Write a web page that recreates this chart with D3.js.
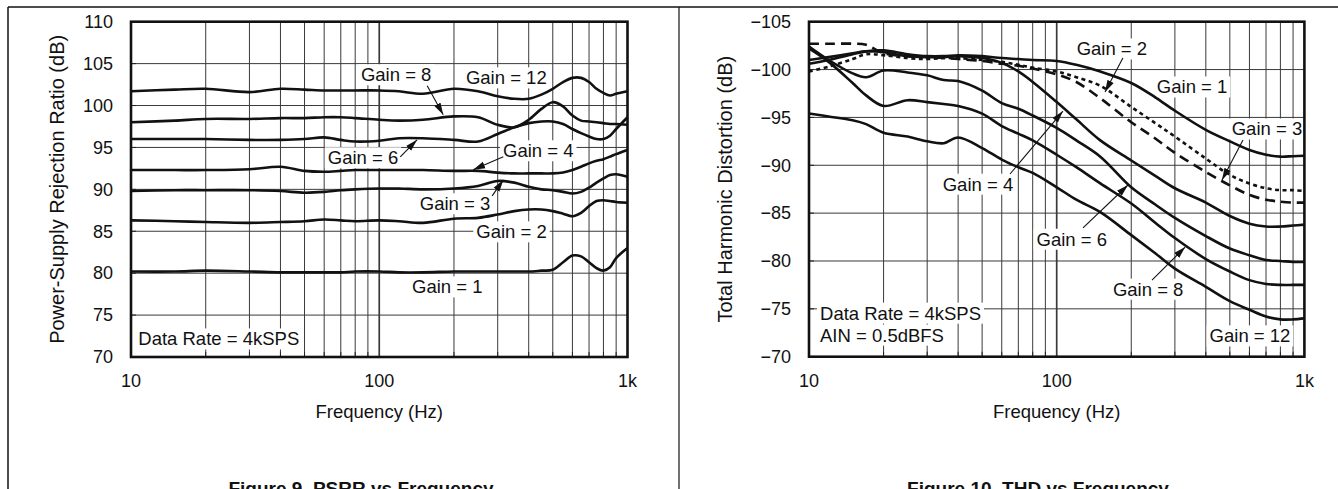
<!DOCTYPE html>
<html>
<head>
<meta charset="utf-8">
<script src="https://cdn.jsdelivr.net/npm/d3@7"></script>
<style>
  body { margin: 0; background: #fff; }
  text { font-family: Arial, "Liberation Sans", Helvetica, sans-serif; fill: #111; }
</style>
</head>
<body>
<svg id="chart" width="1338" height="489"></svg>
<script>
// ---- Figure 9: PSRR vs frequency ----
var psrrFreq   = [10, 15, 20, 30, 40, 50, 60, 70, 80, 100, 120, 150, 200, 250, 300, 350, 400, 450, 500, 550, 600, 650, 700, 750, 800, 850, 900, 1000];
var psrrGain12 = [101.7, 101.9, 102.0, 101.6, 102.0, 101.9, 101.8, 101.8, 101.8, 101.8, 101.7, 101.4, 102.0, 101.7, 101.1, 100.8, 100.8, 101.3, 102.0, 102.8, 103.3, 103.3, 102.8, 102.0, 101.5, 101.2, 101.4, 101.7];
var psrrGain8  = [98.0, 98.2, 98.4, 98.4, 98.5, 98.5, 98.6, 98.6, 98.5, 98.3, 98.2, 98.3, 98.7, 98.6, 97.7, 97.4, 98.3, 99.6, 100.4, 99.9, 98.8, 98.2, 98.1, 98.0, 97.9, 97.8, 97.8, 97.7];
var psrrGain6  = [96.0, 96.0, 96.0, 95.9, 95.9, 96.0, 96.2, 95.9, 95.7, 95.8, 96.1, 96.1, 95.9, 95.7, 96.6, 97.4, 97.9, 98.1, 98.1, 97.8, 97.2, 96.7, 96.3, 96.0, 96.0, 96.4, 97.2, 98.6];
var psrrGain4  = [92.3, 92.3, 92.3, 92.4, 92.7, 92.2, 92.1, 92.2, 92.3, 92.3, 92.3, 92.3, 92.2, 92.2, 92.0, 91.9, 91.9, 91.9, 91.9, 92.0, 92.3, 92.7, 93.1, 93.4, 93.6, 93.9, 94.2, 94.7];
var psrrGain3  = [89.8, 89.9, 89.9, 89.9, 89.8, 89.6, 89.7, 89.9, 90.0, 90.1, 90.1, 90.0, 90.1, 90.4, 91.0, 90.8, 90.3, 90.0, 89.9, 89.7, 89.5, 89.7, 90.2, 90.8, 91.3, 91.7, 91.8, 91.5];
var psrrGain2  = [86.3, 86.2, 86.1, 86.0, 86.1, 86.2, 86.4, 86.3, 86.2, 86.3, 86.2, 86.0, 86.5, 86.6, 87.0, 87.4, 87.6, 87.6, 87.4, 87.1, 86.8, 87.2, 88.0, 88.6, 88.7, 88.6, 88.5, 88.4];
var psrrGain1  = [80.2, 80.2, 80.3, 80.2, 80.1, 80.1, 80.1, 80.1, 80.2, 80.2, 80.1, 80.1, 80.2, 80.2, 80.2, 80.2, 80.2, 80.3, 80.4, 81.3, 82.1, 82.0, 81.3, 80.6, 80.3, 80.7, 81.8, 83.0];
var psrrTicks  = [70, 75, 80, 85, 90, 95, 100, 105, 110];

// ---- Figure 10: THD vs frequency ----
var thdFreq   = [10, 12, 15, 17, 20, 25, 30, 35, 40, 50, 60, 70, 80, 100, 120, 150, 200, 250, 300, 400, 500, 600, 700, 800, 900, 1000];
var thdGain1  = [-100.6, -101.0, -101.6, -101.9, -102.0, -101.6, -101.4, -101.4, -101.5, -101.4, -101.2, -101.1, -101.0, -100.9, -100.5, -99.8, -98.6, -97.1, -95.7, -93.7, -92.5, -91.6, -91.1, -90.9, -90.95, -91.0];
var thdGain2  = [-99.8, -100.3, -101.1, -101.6, -101.5, -101.2, -101.1, -101.2, -101.2, -101.0, -100.8, -100.5, -100.2, -99.8, -99.2, -98.3, -96.1, -94.4, -93.0, -90.7, -89.0, -88.1, -87.6, -87.4, -87.4, -87.3];
var thdGain3  = [-102.7, -102.7, -102.7, -102.6, -101.7, -101.4, -101.3, -101.2, -101.1, -100.9, -100.6, -100.4, -100.1, -99.5, -98.7, -97.0, -94.5, -92.8, -91.3, -89.3, -87.9, -86.9, -86.4, -86.2, -86.1, -86.1];
var thdGain4  = [-101.0, -101.3, -101.7, -101.9, -101.8, -101.4, -101.3, -101.3, -101.4, -101.2, -100.7, -99.8, -98.7, -96.6, -94.8, -92.6, -90.5, -88.9, -87.6, -86.1, -84.7, -83.9, -83.6, -83.6, -83.7, -83.8];
var thdGain6  = [-102.4, -101.0, -99.6, -99.2, -99.9, -99.7, -99.4, -98.9, -98.8, -97.8, -96.5, -95.9, -95.2, -93.9, -92.6, -90.9, -87.7, -85.9, -84.5, -82.6, -81.3, -80.6, -80.1, -80.0, -79.9, -79.9];
var thdGain8  = [-102.2, -100.8, -98.6, -97.3, -96.2, -96.8, -96.6, -96.4, -96.2, -95.4, -94.1, -93.3, -92.6, -91.1, -89.8, -88.1, -86.0, -84.0, -82.4, -80.2, -78.9, -78.0, -77.6, -77.5, -77.5, -77.5];
var thdGain12 = [-95.4, -95.1, -94.7, -94.3, -93.4, -93.0, -92.5, -92.3, -92.9, -91.8, -90.6, -89.8, -89.2, -87.7, -86.4, -85.1, -82.7, -80.8, -79.2, -77.3, -75.8, -74.9, -74.2, -73.9, -73.9, -74.0];
var thdTicks  = [-105, -100, -95, -90, -85, -80, -75, -70];

var freqTicks = [10, 100, 1000];
var freqTickLabels = ['10', '100', '1k'];

var svg = d3.select('#chart');

var defs = svg.append('defs');
defs.append('marker')
  .attr('id', 'arrow')
  .attr('markerUnits', 'userSpaceOnUse')
  .attr('markerWidth', 13).attr('markerHeight', 8)
  .attr('refX', 12).attr('refY', 4)
  .attr('orient', 'auto')
  .append('path')
  .attr('d', 'M0,0.5 L12,4 L0,7.5 Z')
  .attr('fill', '#111');

// page frame lines
svg.append('line').attr('x1', 8).attr('x2', 1338).attr('y1', 7).attr('y2', 7)
  .attr('stroke', '#111').attr('stroke-width', 1.5);
svg.append('line').attr('x1', 8).attr('x2', 8).attr('y1', 7).attr('y2', 489)
  .attr('stroke', '#111').attr('stroke-width', 1.5);
svg.append('line').attr('x1', 679).attr('x2', 679).attr('y1', 7).attr('y2', 489)
  .attr('stroke', '#111').attr('stroke-width', 1.2);

function drawPanel(p) {
  var bottom = p.top + p.height;
  var x = d3.scaleLog().domain([10, 1000]).range([p.left, p.left + p.width]);
  var y = d3.scaleLinear().domain(p.yDomain).range([bottom, p.top]);
  var g = svg.append('g');

  var minor = [];
  [10, 100].forEach(function (dec) {
    for (var k = 2; k <= 9; k++) minor.push(dec * k);
  });

  // grid
  g.selectAll('.vgrid').data(minor.concat([100])).enter().append('line')
    .attr('x1', function (d) { return x(d); }).attr('x2', function (d) { return x(d); })
    .attr('y1', p.top).attr('y2', bottom)
    .attr('stroke', '#3a3a3a')
    .attr('stroke-width', function (d) { return d === 100 ? 1.7 : 1; });
  g.selectAll('.hgrid').data(p.yTicks).enter().append('line')
    .attr('x1', p.left).attr('x2', p.left + p.width)
    .attr('y1', function (d) { return y(d); }).attr('y2', function (d) { return y(d); })
    .attr('stroke', '#3a3a3a').attr('stroke-width', 1);

  // annotation text with white boxes that hide the grid
  p.labels.forEach(function (l) {
    var t = g.append('text')
      .attr('x', x(l.f)).attr('y', y(l.v))
      .attr('dy', '0.35em')
      .attr('text-anchor', l.anchor || 'middle')
      .style('font-size', '18.5px')
      .text(l.text);
    var b = t.node().getBBox();
    g.insert('rect', function () { return t.node(); })
      .attr('x', b.x - 3).attr('y', b.y)
      .attr('width', b.width + 6).attr('height', b.height)
      .attr('fill', '#fff');
  });

  // curves
  var line = d3.line()
    .x(function (d) { return x(d[0]); })
    .y(function (d) { return y(d[1]); })
    .curve(d3.curveCatmullRom.alpha(0.5));
  p.series.forEach(function (s) {
    g.append('path')
      .datum(p.freq.map(function (f, i) { return [f, s.values[i]]; }))
      .attr('d', line)
      .attr('fill', 'none')
      .attr('stroke', '#111')
      .attr('stroke-width', 2.6)
      .attr('stroke-dasharray', s.dash || null)
      .attr('stroke-linejoin', 'round');
  });

  // arrows
  p.arrows.forEach(function (a) {
    g.append('line')
      .attr('x1', x(a[0])).attr('y1', y(a[1]))
      .attr('x2', x(a[2])).attr('y2', y(a[3]))
      .attr('stroke', '#111').attr('stroke-width', 1.1)
      .attr('marker-end', 'url(#arrow)');
  });

  // inner ticks
  g.selectAll('.xt').data(minor).enter().append('line')
    .attr('x1', function (d) { return x(d); }).attr('x2', function (d) { return x(d); })
    .attr('y1', bottom).attr('y2', bottom - 5)
    .attr('stroke', '#222').attr('stroke-width', 1);
  g.selectAll('.yt').data(p.yTicks).enter().append('line')
    .attr('x1', p.left).attr('x2', p.left + 5)
    .attr('y1', function (d) { return y(d); }).attr('y2', function (d) { return y(d); })
    .attr('stroke', '#222').attr('stroke-width', 1);

  // plot frame
  g.append('rect')
    .attr('x', p.left).attr('y', p.top)
    .attr('width', p.width).attr('height', p.height)
    .attr('fill', 'none').attr('stroke', '#111').attr('stroke-width', 2.6);

  // tick labels
  g.selectAll('.yl').data(p.yTicks).enter().append('text')
    .attr('x', p.left - 18).attr('y', function (d) { return y(d); })
    .attr('dy', '0.35em').attr('text-anchor', 'end')
    .style('font-size', '18px')
    .text(function (d) { return d < 0 ? '\u2212' + Math.abs(d) : d; });
  g.selectAll('.xl').data(freqTicks).enter().append('text')
    .attr('x', function (d) { return x(d); }).attr('y', bottom + 30)
    .attr('text-anchor', 'middle')
    .style('font-size', '18px')
    .text(function (d, i) { return freqTickLabels[i]; });

  // axis titles
  g.append('text')
    .attr('x', p.left + p.width / 2).attr('y', bottom + 61)
    .attr('text-anchor', 'middle')
    .style('font-size', '18.5px')
    .text('Frequency (Hz)');
  g.append('text')
    .attr('transform', 'translate(' + p.yTitleX + ',' + (p.top + p.height / 2) + ') rotate(-90)')
    .attr('text-anchor', 'middle').attr('dy', '0.35em')
    .style('font-size', '20px')
    .text(p.yTitle);

  // figure caption (cut off by the page edge)
  g.append('text')
    .attr('x', p.captionX).attr('y', 495)
    .attr('text-anchor', 'middle')
    .style('font-size', '19px').style('font-weight', 'bold')
    .text(p.caption);
}

drawPanel({
  left: 131, top: 21.7, width: 496.5, height: 335.3,
  yDomain: [70, 110], yTicks: psrrTicks,
  yTitle: 'Power-Supply Rejection Ratio (dB)', yTitleX: 57,
  caption: 'Figure 9. PSRR vs Frequency', captionX: 361,
  freq: psrrFreq,
  series: [
    { values: psrrGain12 }, { values: psrrGain8 }, { values: psrrGain6 },
    { values: psrrGain4 }, { values: psrrGain3 }, { values: psrrGain2 }, { values: psrrGain1 }
  ],
  labels: [
    { text: 'Gain = 8', f: 117, v: 103.67 },
    { text: 'Gain = 12', f: 325, v: 103.3 },
    { text: 'Gain = 6', f: 86, v: 93.76 },
    { text: 'Gain = 4', f: 437, v: 94.6 },
    { text: 'Gain = 3', f: 202, v: 88.27 },
    { text: 'Gain = 2', f: 341, v: 84.93 },
    { text: 'Gain = 1', f: 188, v: 78.36 },
    { text: 'Data Rate = 4kSPS', f: 10.7, v: 72.15, anchor: 'start' }
  ],
  arrows: [
    [156, 102.36, 181, 98.9],
    [121.5, 93.88, 142, 95.91],
    [316, 93.88, 239, 92.33],
    [285, 89.22, 316, 91.13]
  ]
});

drawPanel({
  left: 809, top: 21.7, width: 495.4, height: 335,
  yDomain: [-70, -105], yTicks: thdTicks,
  yTitle: 'Total Harmonic Distortion (dB)', yTitleX: 725,
  caption: 'Figure 10. THD vs Frequency', captionX: 1038,
  freq: thdFreq,
  series: [
    { values: thdGain1 }, { values: thdGain2, dash: '4,3.5' }, { values: thdGain3, dash: '10,6' },
    { values: thdGain4 }, { values: thdGain6 }, { values: thdGain8 }, { values: thdGain12 }
  ],
  labels: [
    { text: 'Gain = 2', f: 167, v: -102.15 },
    { text: 'Gain = 1', f: 352, v: -98.18 },
    { text: 'Gain = 3', f: 706, v: -93.79 },
    { text: 'Gain = 4', f: 48.1, v: -88.02 },
    { text: 'Gain = 6', f: 115, v: -82.27 },
    { text: 'Gain = 8', f: 234, v: -77.05 },
    { text: 'Gain = 12', f: 603, v: -72.17 },
    { text: 'Data Rate = 4kSPS', f: 11.08, v: -74.55, anchor: 'start' },
    { text: 'AIN = 0.5dBFS', f: 11.08, v: -72.25, anchor: 'start' }
  ],
  arrows: [
    [185, -101.2, 156.7, -97.65],
    [565, -92.64, 465, -88.46],
    [64.8, -89.09, 106, -95.66],
    [127.7, -83.45, 194, -87.94],
    [242.5, -78.0, 330, -81.45]
  ]
});
</script>
</body>
</html>
